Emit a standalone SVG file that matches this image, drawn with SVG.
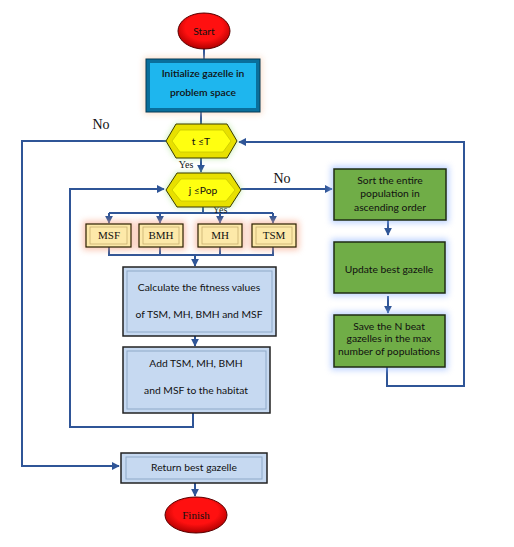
<svg xmlns="http://www.w3.org/2000/svg" width="514" height="547" viewBox="0 0 514 547">
<style>
.t{font-family:Lato,"Liberation Sans",sans-serif;font-size:10.3px;fill:#111;text-anchor:middle}
.s{font-family:"Liberation Serif",serif;fill:#111;text-anchor:middle}
.c{fill:none;stroke:#2f5597;stroke-width:2}
.blue{fill:#c6d9f1;stroke:#222;stroke-width:1.5}
.inb{fill:none;stroke:#8ea9c8;stroke-width:1}
.green{fill:#70ad47;stroke:#1f2d14;stroke-width:1.5}
.yel{fill:#e8e000;stroke:#3a3a00;stroke-width:1}
.small{fill:#fde9a9;stroke:#2a2000;stroke-width:1.2}
</style>
<defs>
<marker id="a" viewBox="0 0 10 10" refX="9" refY="5" markerWidth="4" markerHeight="4" orient="auto"><path d="M0,0L10,5L0,10z" fill="#2f5597"/></marker>
<filter id="gg" x="-30%" y="-30%" width="160%" height="160%"><feGaussianBlur stdDeviation="3"/></filter>
<radialGradient id="red" cx="50%" cy="40%" r="60%"><stop offset="0.6" stop-color="#ff1010"/><stop offset="1" stop-color="#b00000"/></radialGradient>
</defs>
<rect width="514" height="547" fill="#fff"/>

<g id="connectors">
<path class="c" d="M204,49V59"/>
<path class="c" d="M201,112V124"/>
<path class="c" d="M166,141H22V466H119" marker-end="url(#a)"/>
<path class="c" d="M387,367V386H464V142H239" marker-end="url(#a)"/>
<path class="c" d="M201,158V172" marker-end="url(#a)"/>
<path class="c" d="M241,189H332" marker-end="url(#a)"/>
<path class="c" d="M193,412V427H70V189H164" marker-end="url(#a)"/>
<path class="c" d="M203,207V213"/>
<path class="c" d="M109,213H273"/>
<path class="c" d="M109,213V223" marker-end="url(#a)"/>
<path class="c" d="M160,213V223" marker-end="url(#a)"/>
<path class="c" d="M220,213V223" marker-end="url(#a)"/>
<path class="c" d="M273,213V223" marker-end="url(#a)"/>
<path class="c" d="M109,247V255H273V247M160,247V255M220,247V255"/>
<path class="c" d="M195,255V266" marker-end="url(#a)"/>
<path class="c" d="M195,336V346" marker-end="url(#a)"/>
<path class="c" d="M388,220V235" marker-end="url(#a)"/>
<path class="c" d="M388,296V313" marker-end="url(#a)"/>
<path class="c" d="M195,483V496" marker-end="url(#a)"/>
<text class="s" x="101" y="129" font-size="14">No</text>
<text class="s" x="282" y="183" font-size="14">No</text>
<text class="s" x="186" y="168" font-size="10">Yes</text>
<text class="s" x="220" y="213" font-size="10">Yes</text>
</g>

<g id="start">
<ellipse cx="204" cy="31" rx="26" ry="18" fill="url(#red)" stroke="#5a0000" stroke-width="1"/>
<text class="t" x="204" y="35" font-size="11">Start</text>
</g>

<g id="init">
<rect x="144" y="57" width="118" height="57" fill="#f7c8a8" filter="url(#gg)" opacity="0.6"/>
<rect x="146" y="59" width="114" height="53" fill="#0a6f9c" stroke="#063a55" stroke-width="1"/>
<rect x="150" y="63" width="106" height="45" fill="#1eb6ee"/>
<text class="t" x="203" y="77" font-weight="600">Initialize gazelle in</text>
<text class="t" x="203" y="96" font-weight="600">problem space</text>
</g>

<g id="tT">
<polygon points="166,141 176,124 227,124 237,141 227,158 176,158" fill="#9be07a" filter="url(#gg)" opacity="0.7"/>
<polygon class="yel" points="166,141 176,124 227,124 237,141 227,158 176,158"/>
<polygon points="172,141 180,130 223,130 231,141 223,152 180,152" fill="#ffff10" stroke="#c8c800" stroke-width="0.8"/>
<text class="t" x="201" y="145">t ≤T</text>
</g>

<g id="jPop">
<polygon points="166,190 177,173 230,173 241,190 230,207 177,207" fill="#9be07a" filter="url(#gg)" opacity="0.7"/>
<polygon class="yel" points="166,190 177,173 230,173 241,190 230,207 177,207"/>
<polygon points="172,190 181,179 226,179 235,190 226,201 181,201" fill="#ffff10" stroke="#c8c800" stroke-width="0.8"/>
<text class="t" x="203" y="194">j ≤Pop</text>
</g>

<g id="msf">
<rect x="83" y="221" width="51" height="29" fill="#f7a080" filter="url(#gg)" opacity="0.6"/>
<rect class="small" x="86" y="224" width="45" height="23"/>
<rect x="90" y="227" width="37" height="17" fill="none" stroke="#c8b070" stroke-width="0.8"/>
<text class="s" x="109" y="239" font-size="11">MSF</text>
</g>
<g id="bmh">
<rect x="136" y="221" width="50" height="29" fill="#f7a080" filter="url(#gg)" opacity="0.6"/>
<rect class="small" x="139" y="224" width="44" height="23"/>
<rect x="143" y="227" width="36" height="17" fill="none" stroke="#c8b070" stroke-width="0.8"/>
<text class="s" x="161" y="239" font-size="11">BMH</text>
</g>
<g id="mh">
<rect x="195" y="221" width="50" height="29" fill="#f7a080" filter="url(#gg)" opacity="0.6"/>
<rect class="small" x="198" y="224" width="44" height="23"/>
<rect x="202" y="227" width="36" height="17" fill="none" stroke="#c8b070" stroke-width="0.8"/>
<text class="s" x="220" y="239" font-size="11">MH</text>
</g>
<g id="tsm">
<rect x="249" y="221" width="50" height="29" fill="#f7a080" filter="url(#gg)" opacity="0.6"/>
<rect class="small" x="252" y="224" width="44" height="23"/>
<rect x="256" y="227" width="36" height="17" fill="none" stroke="#c8b070" stroke-width="0.8"/>
<text class="s" x="274" y="239" font-size="11">TSM</text>
</g>

<g id="calc">
<rect class="blue" x="123" y="267" width="153" height="69"/>
<rect class="inb" x="127" y="271" width="145" height="61"/>
<text class="t" x="199" y="291">Calculate the fitness values</text>
<text class="t" x="199" y="318">of TSM, MH, BMH and MSF</text>
</g>

<g id="add">
<rect class="blue" x="123" y="347" width="147" height="66"/>
<rect class="inb" x="127" y="351" width="139" height="58"/>
<text class="t" x="196" y="367">Add TSM, MH, BMH</text>
<text class="t" x="196" y="394">and MSF to the habitat</text>
</g>

<g id="return">
<rect class="blue" x="121" y="453" width="146" height="30"/>
<rect class="inb" x="126" y="457" width="136" height="22"/>
<text class="t" x="194" y="471">Return best gazelle</text>
</g>

<g id="finish">
<ellipse cx="196" cy="515" rx="31" ry="18" fill="url(#red)" stroke="#5a0000" stroke-width="1"/>
<text class="s" x="196" y="519" font-size="11">Finish</text>
</g>

<g id="sort">
<rect x="331" y="166" width="118" height="57" fill="#8fb4ff" filter="url(#gg)" opacity="0.6"/>
<rect class="green" x="334" y="169" width="112" height="51"/>
<text class="t" x="390" y="184">Sort the entire</text>
<text class="t" x="390" y="197">population in</text>
<text class="t" x="390" y="211">ascending order</text>
</g>

<g id="update">
<rect x="331" y="239" width="117" height="57" fill="#8fb4ff" filter="url(#gg)" opacity="0.6"/>
<rect class="green" x="334" y="242" width="111" height="51"/>
<text class="t" x="389" y="273">Update best gazelle</text>
</g>

<g id="save">
<rect x="331" y="312" width="117" height="58" fill="#8fb4ff" filter="url(#gg)" opacity="0.6"/>
<rect class="green" x="334" y="315" width="111" height="52"/>
<text class="t" x="389" y="330">Save the N beat</text>
<text class="t" x="389" y="342">gazelles in the max</text>
<text class="t" x="389" y="355">number of populations</text>
</g>
</svg>
